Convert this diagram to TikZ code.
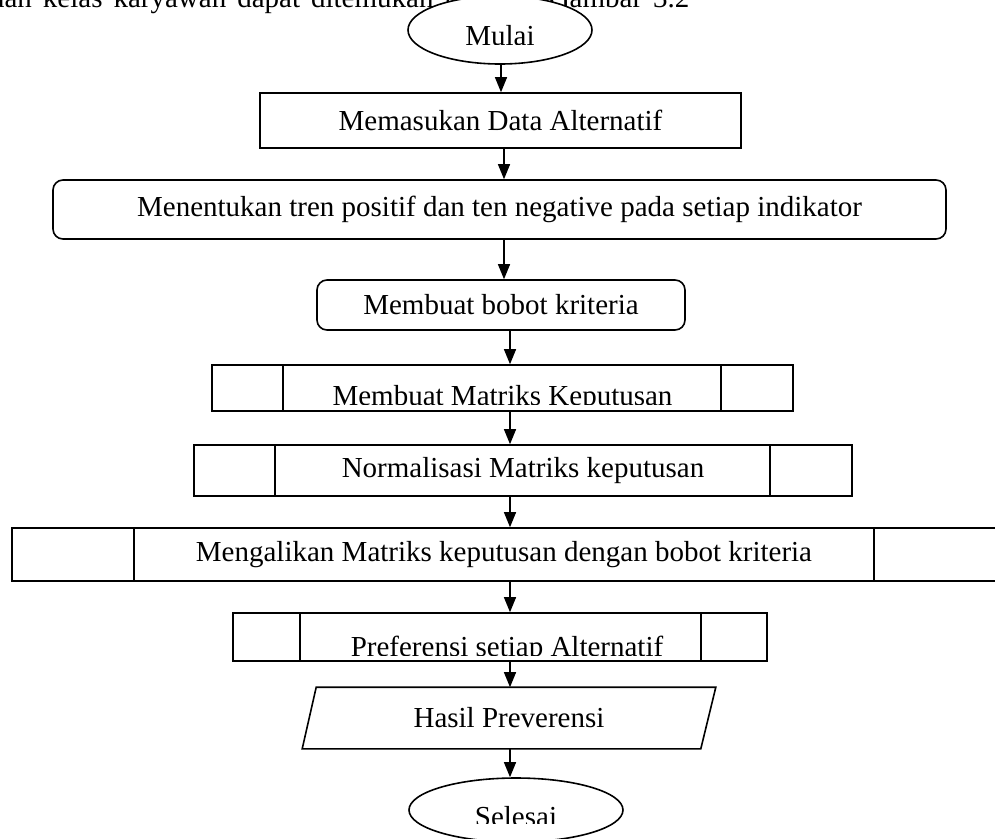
\documentclass[tikz,border=0pt]{standalone}
\usepackage{fontspec}
\setmainfont{Liberation Serif}
\usetikzlibrary{arrows.meta,calc,shapes.geometric}
\begin{document}
\begin{tikzpicture}[x=1pt,y=-1pt,line width=1.6pt,
  font=\fontsize{29}{34}\selectfont,
  box/.style={draw,rectangle,inner sep=0pt},
  rbox/.style={draw,rectangle,rounded corners=10pt,inner sep=0pt},
  oval/.style={draw,ellipse,inner sep=0pt,fill=white},
  txt/.style={inner sep=0pt,anchor=base},
  runtext/.style={inner sep=0pt},
  arr/.style={-{Triangle[length=15pt,width=12pt]},line width=1.3pt}]
\useasboundingbox (0,0) rectangle (995,838);
\clip (0,0) rectangle (995,838);

% running text of the page (partly hidden behind the start oval)
\node[runtext,anchor=base west] (t1) at (-88,7) {\spaceskip=11pt\relax penentuan kelas karyawan dapat ditemukan pada};
\node[runtext,anchor=base west] (t2) at (548,7) {\spaceskip=11pt\relax Gambar 3.2};

% start
\node[oval,minimum width=184pt,minimum height=68pt] (m) at (500,30) {};
\begin{scope}
  \clip (0,0) rectangle (995,44);
  \node[txt] (mt) at (500,45) {Mulai};
\end{scope}

\node[box,minimum width=481pt,minimum height=55pt] (b1) at (500.5,120.5) {Memasukan Data Alternatif};
\node[rbox,minimum width=893pt,minimum height=59pt] (b2) at (499.5,209.5) {Menentukan tren positif dan ten negative pada setiap indikator};
\node[rbox,minimum width=368pt,minimum height=50pt] (b3) at (501,305) {Membuat bobot kriteria};

\node[box,minimum width=581pt,minimum height=46pt] (b4) at (502.5,388) {};
\begin{scope}
  \clip (0,0) rectangle (995,404);
  \node[txt] (b4t) at (502.5,405) {Membuat Matriks Keputusan};
\end{scope}
\draw ($(b4.north west)+(72,0)$) -- ($(b4.south west)+(72,0)$);
\draw ($(b4.north east)+(-73,0)$) -- ($(b4.south east)+(-73,0)$);

\node[box,minimum width=658pt,minimum height=51pt] (b5) at (523,470.5) {Normalisasi Matriks keputusan};
\draw ($(b5.north west)+(82,0)$) -- ($(b5.south west)+(82,0)$);
\draw ($(b5.north east)+(-83,0)$) -- ($(b5.south east)+(-83,0)$);

\node[box,minimum width=984pt,minimum height=53pt] (b6) at (504,554.5) {Mengalikan Matriks keputusan dengan bobot kriteria};
\draw ($(b6.north west)+(123,0)$) -- ($(b6.south west)+(123,0)$);
\draw ($(b6.north east)+(-123,0)$) -- ($(b6.south east)+(-123,0)$);

\node[box,minimum width=534pt,minimum height=48pt] (b7) at (500,637) {};
\begin{scope}
  \clip (0,0) rectangle (995,655);
  \node[txt] (b7t) at (507,656) {Preferensi setiap Alternatif};
\end{scope}
\draw ($(b7.north west)+(68,0)$) -- ($(b7.south west)+(68,0)$);
\draw ($(b7.north east)+(-67,0)$) -- ($(b7.south east)+(-67,0)$);

\node[inner sep=0pt,minimum width=412pt,minimum height=60pt] (p) at (509,718) {Hasil Preverensi};
\draw (p.south west) -- ($(p.north west)+(14,0)$) -- (p.north east) -- ($(p.south east)+(-15,0)$) -- cycle;

\node[oval,minimum width=214pt,minimum height=64pt] (s) at (516,810) {};
\begin{scope}
  \clip (0,0) rectangle (995,823);
  \node[txt] (st) at (516,826) {Selesai};
\end{scope}

% connectors
\coordinate (ax0) at (501,0);
\coordinate (ax1) at (504,0);
\coordinate (ax) at (510,0);
\draw[arr] (m.south -| ax0) -- (b1.north -| ax0);
\draw[arr] (b1.south -| ax1) -- (b2.north -| ax1);
\draw[arr] (b2.south -| ax1) -- (b3.north -| ax1);
\draw[arr] (b3.south -| ax) -- (b4.north -| ax);
\draw[arr] (b4.south -| ax) -- (b5.north -| ax);
\draw[arr] (b5.south -| ax) -- (b6.north -| ax);
\draw[arr] (b6.south -| ax) -- (b7.north -| ax);
\draw[arr] (b7.south -| ax) -- (p.north -| ax);
\draw[arr] (p.south -| ax) -- (s.north -| ax);
\end{tikzpicture}
\end{document}
